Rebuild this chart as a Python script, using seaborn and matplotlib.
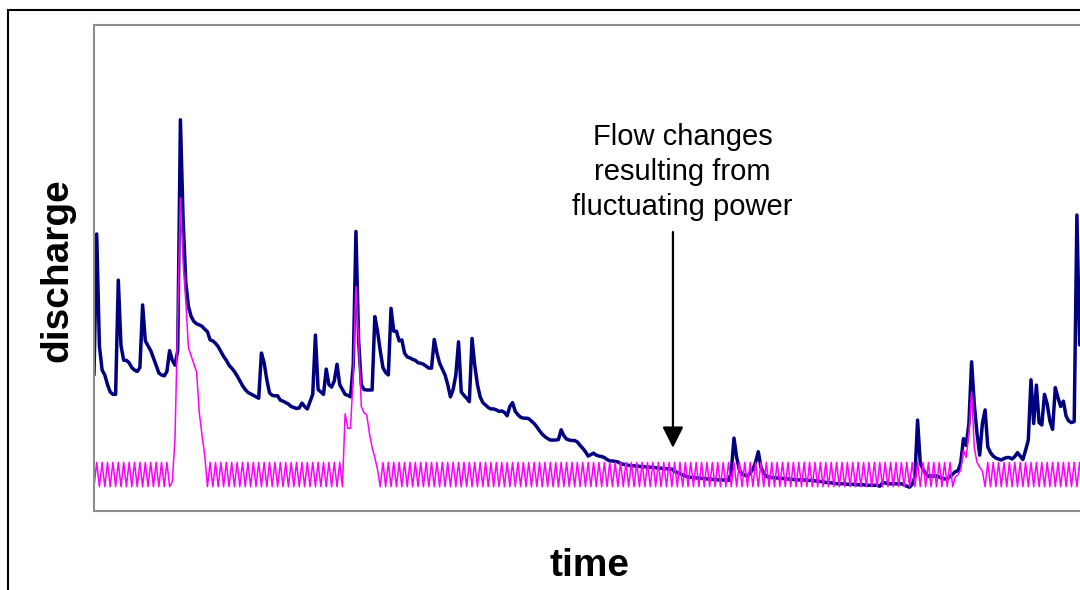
import pandas as pd
import matplotlib
matplotlib.use("Agg")
import matplotlib.pyplot as plt
from matplotlib.patches import Rectangle
import seaborn as sns

# daily discharge (natural flow), arbitrary units
discharge = [
    28, 57, 34, 29, 28, 26, 24.5, 24, 24, 47.5,
    34, 31, 31, 30.5, 29.5, 29, 28.7, 29.5, 42.4, 35,
    34, 33, 31.5, 30, 28.4, 28, 27.8, 28.7, 33, 31,
    30, 33, 80.5, 60, 47, 42, 40, 39, 38.5, 38.3,
    38, 37.4, 36.9, 35.2, 35, 34.5, 33.8, 32.8, 31.8, 31,
    30, 29.4, 28.7, 27.8, 26.8, 25.8, 25, 24.4, 24.1, 23.8,
    23.5, 23.2, 32.5, 30.5, 27, 24.3, 23.8, 23.7, 23.7, 22.8,
    22.6, 22.3, 22, 21.5, 21.3, 21.1, 21.2, 22.2, 21.5, 21,
    22.5, 24, 36.2, 25, 24.5, 24, 29.2, 26, 25.5, 26.8,
    30.2, 26, 25, 24, 23.8, 23.5, 30, 57.5, 35, 26,
    25, 24.9, 24.9, 24.9, 40, 37, 33, 29.5, 28.5, 28,
    41.7, 37, 37, 35, 35.2, 32.5, 31.7, 31.5, 31.2, 31,
    30.5, 30.4, 30.2, 29.8, 29.4, 29.4, 35.3, 32.5, 30.4, 29.2,
    28, 26, 23.5, 25, 28, 34.8, 24.5, 23.8, 23.2, 22.5,
    35.5, 30, 26, 23.5, 22.3, 21.8, 21.3, 21, 21, 20.8,
    20.5, 20.6, 20.3, 19.6, 21.5, 22.3, 20.5, 19.8, 19.3, 19.1,
    19.1, 19, 18.5, 18, 17.3, 16.5, 15.8, 15.3, 14.9, 14.6,
    14.6, 14.6, 14.7, 16.7, 15.5, 14.8, 14.6, 14.5, 14.5, 14.2,
    13.5, 12.9, 12.2, 11.3, 11.6, 11.9, 11.5, 11.3, 11.2, 11,
    10.6, 10.3, 10.3, 10.2, 10.1, 9.8, 9.6, 9.5, 9.4, 9.3,
    9.3, 9.2, 9.2, 9.1, 9.1, 9, 9, 9, 8.9, 8.8,
    8.8, 8.7, 8.7, 8.6, 8.6, 8.2, 7.9, 7.7, 7.4, 7.2,
    7, 6.9, 6.9, 6.8, 6.8, 6.7, 6.7, 6.6, 6.6, 6.5,
    6.5, 6.4, 6.4, 6.4, 6.3, 6.3, 8, 15, 11, 8.5,
    7.6, 7.4, 7.1, 7.8, 8.6, 10, 12.2, 9, 7.8, 7.1,
    7, 6.9, 6.8, 6.8, 6.7, 6.7, 6.6, 6.6, 6.5, 6.5,
    6.4, 6.4, 6.4, 6.4, 6.3, 6.3, 6.3, 6.2, 6.1, 6.1,
    6, 5.9, 5.8, 5.8, 5.7, 5.6, 5.6, 5.6, 5.6, 5.5,
    5.5, 5.5, 5.4, 5.4, 5.4, 5.4, 5.3, 5.3, 5.3, 5.3,
    5.3, 5.1, 5.8, 5.8, 5.6, 5.6, 5.6, 5.6, 5.6, 5.6,
    5.4, 5.1, 4.9, 5.5, 7, 18.7, 9.8, 8.6, 7.7, 7.1,
    7.2, 7.2, 7.2, 7, 6.7, 6.6, 6.6, 7.1, 7.6, 8.1,
    8.3, 10, 14.9, 13.5, 18, 30.7, 22, 16, 11.5, 18,
    20.8, 13.2, 12, 11.3, 10.9, 10.7, 10.5, 10.8, 11, 11,
    10.7, 11.2, 12, 11.3, 10.6, 12.5, 14.6, 27, 18, 25.9,
    18.2, 17.7, 24, 22, 18.5, 16.8, 25.4, 23.3, 21.5, 22.6,
    19.5, 18.5, 18.2, 18.4, 60.9, 34.2, 34, 34,
]

# hydropeaking flow: daily low/high release, broken by three floods
peak_cycle = [5, 10]
flood_1 = [5, 6, 15, 40, 64.4, 51, 43, 33.5, 31.9, 30.2, 28.6, 20.2, 15.6, 11.5]
flood_2 = [5, 20, 17, 17, 28, 46.2, 35, 21.5, 20.2, 19.8, 16, 13, 11, 8.5]
flood_3 = [5, 7, 7.5, 8.5, 12.5, 11, 16, 24.5, 13, 10, 9, 8.2]
regulated = (peak_cycle * 14 + flood_1 + peak_cycle * 25 + flood_2
             + peak_cycle * 106 + flood_3 + peak_cycle * 19)

days = list(range(len(discharge)))
df = pd.DataFrame({"day": days, "discharge": discharge, "regulated": regulated})

sns.set_style("white")
plt.rcParams["font.family"] = ["Liberation Sans", "DejaVu Sans"]
plt.rcParams["text.color"] = "black"

fig = plt.figure(figsize=(10.8, 5.9), dpi=100)
# outer frame, cut off at right and bottom like the original
fig.patches.append(Rectangle((8 / 1080, -0.1), 1.2, 1.1 - 10 / 590,
                             transform=fig.transFigure, fill=False,
                             edgecolor="black", lw=1.5))

ax = fig.add_axes([94 / 1080, 79 / 590, 991 / 1080, 486 / 590])
sns.lineplot(data=df, x="day", y="discharge", ax=ax, color="#000080",
             lw=2.5, estimator=None)
sns.lineplot(data=df, x="day", y="regulated", ax=ax, color="#FF00FF",
             lw=1.1, estimator=None)

ax.set_xlim(0, 367)
ax.set_ylim(0, 100)
ax.set_xticks([])
ax.set_yticks([])
ax.set_xlabel("")
ax.set_ylabel("")
for sp in ax.spines.values():
    sp.set_color("#8c8c8c")
    sp.set_linewidth(1.5)

ax.text(218, 69.8, "Flow changes\nresulting from\nfluctuating power",
        ha="center", va="center", fontsize=21, linespacing=1.32)
ax.annotate("", xy=(214.4, 13.0), xytext=(214.4, 57.4),
            arrowprops=dict(arrowstyle="-|>", color="black", lw=1.6,
                            mutation_scale=32, shrinkA=0, shrinkB=0))

fig.text(589 / 1080, 1 - 566 / 590, "time", ha="center", va="center",
         fontsize=28, fontweight="bold")
fig.text(57 / 1080, 1 - 270 / 590, "discharge", ha="center", va="center",
         fontsize=28, fontweight="bold", rotation=90)

fig.savefig("out.png", dpi=100)
